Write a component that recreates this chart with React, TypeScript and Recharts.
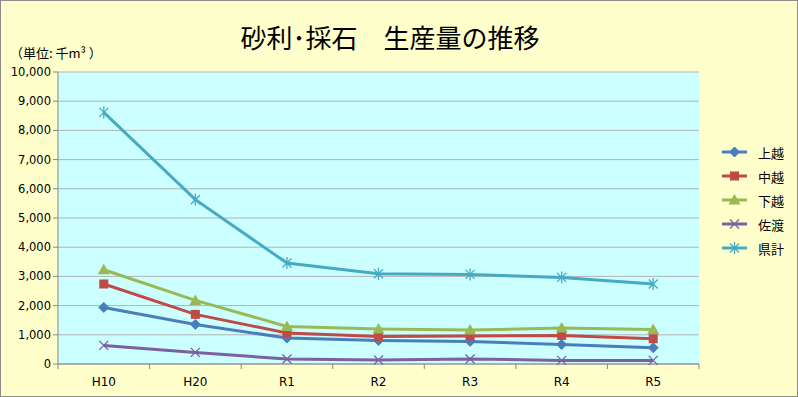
import React from "react";
import { LineChart, Line, XAxis, YAxis, CartesianGrid } from "recharts";

const categories = ["H10", "H20", "R1", "R2", "R3", "R4", "R5"];
const joetsu = [1938, 1356, 890, 808, 774, 671, 558];
const chuetsu = [2740, 1699, 1062, 945, 959, 979, 866];
const kaetsu = [3229, 2178, 1288, 1199, 1164, 1233, 1185];
const sado = [637, 397, 171, 137, 171, 123, 123];
const kenkei = [8616, 5627, 3459, 3092, 3068, 2966, 2740];
const yTicks = [0, 1000, 2000, 3000, 4000, 5000, 6000, 7000, 8000, 9000, 10000];

const data = categories.map((c, i) => ({
  name: c,
  上越: joetsu[i],
  中越: chuetsu[i],
  下越: kaetsu[i],
  佐渡: sado[i],
  県計: kenkei[i],
}));

const series = [
  { key: "上越", color: "#4A7EBB", shape: "diamond" },
  { key: "中越", color: "#BE4B48", shape: "square" },
  { key: "下越", color: "#98B954", shape: "triangle" },
  { key: "佐渡", color: "#7D60A0", shape: "x" },
  { key: "県計", color: "#46AAC5", shape: "star" },
];

const W = 798;
const H = 397;
const XH = 30;
const M = { top: 72, right: 99, left: 0, bottom: 397 - 364 - XH };
const YW = 58;
const plotW = W - M.left - M.right - YW;
const band = plotW / categories.length;

function Marker({ cx, cy, color, shape }: any) {
  if (cx == null || cy == null) return null;
  switch (shape) {
    case "diamond":
      return <polygon points={`${cx},${cy - 5} ${cx + 5},${cy} ${cx},${cy + 5} ${cx - 5},${cy}`} fill={color} stroke={color} />;
    case "square":
      return <rect x={cx - 4.5} y={cy - 4.5} width={9} height={9} fill={color} />;
    case "triangle":
      return <polygon points={`${cx},${cy - 6} ${cx + 6},${cy + 4.5} ${cx - 6},${cy + 4.5}`} fill={color} />;
    case "x":
      return (
        <g stroke={color} strokeWidth={1.3}>
          <line x1={cx - 4.5} y1={cy - 4.5} x2={cx + 4.5} y2={cy + 4.5} />
          <line x1={cx - 4.5} y1={cy + 4.5} x2={cx + 4.5} y2={cy - 4.5} />
        </g>
      );
    case "star":
      return (
        <g stroke={color} strokeWidth={1.3}>
          <line x1={cx - 4.5} y1={cy - 4.5} x2={cx + 4.5} y2={cy + 4.5} />
          <line x1={cx - 4.5} y1={cy + 4.5} x2={cx + 4.5} y2={cy - 4.5} />
          <line x1={cx} y1={cy - 6} x2={cx} y2={cy + 6} />
        </g>
      );
  }
  return null;
}

const XTick = (props: any) => {
  const { x, y, payload, index } = props;
  const axisY = y;
  return (
    <g>
      {index === 0 && <line x1={x - band / 2} y1={axisY} x2={x - band / 2} y2={axisY + 5} stroke="#868686" />}
      <line x1={x + band / 2} y1={axisY} x2={x + band / 2} y2={axisY + 5} stroke="#868686" />
      <text x={x} y={axisY + 22} textAnchor="middle" fontSize={12} fontFamily="DejaVu Sans" fill="#000">
        {payload.value}
      </text>
    </g>
  );
};

const LegendBox = () => (
  <div style={{ position: "absolute", left: 720, top: 139, fontFamily: "'Noto Sans CJK JP'", fontSize: 13 }}>
    {series.map((s) => (
      <div key={s.key} style={{ display: "flex", alignItems: "center", height: 24 }}>
        <svg width={28} height={14} style={{ marginRight: 9 }}>
          <line x1={1} y1={7} x2={26} y2={7} stroke={s.color} strokeWidth={3} />
          <Marker cx={13.5} cy={7} color={s.color} shape={s.shape} />
        </svg>
        <span style={{ color: "#000" }}>{s.key}</span>
      </div>
    ))}
  </div>
);

export default function App() {
  return (
    <div style={{ position: "absolute", left: 0, top: 0, width: W, height: H, background: "#FFFFCC", boxSizing: "border-box", border: "1px solid #8c8c8c" }}>
      <div style={{ position: "absolute", left: -1, top: -1 }}>
        <LineChart width={W} height={H} data={data} margin={M}>
          <CartesianGrid vertical={false} stroke="#B3B3B3" fill="#CCFFFF" />
          <XAxis
            dataKey="name"
            height={XH}
            tickLine={false}
            tickSize={0}
            tickMargin={0}
            axisLine={{ stroke: "#868686" }}
            tick={<XTick />}
            interval={0}
            padding={{ left: band / 2, right: band / 2 }}
          />
          <YAxis
            width={YW}
            domain={[0, 10000]}
            ticks={yTicks}
            interval={0}
            tickLine={{ stroke: "#868686" }}
            tickSize={5}
            axisLine={{ stroke: "#868686" }}
            tickFormatter={(v: number) => v.toLocaleString("en-US")}
            tick={{ fontSize: 11.5, fontFamily: "DejaVu Sans", fill: "#000" }}
            tickMargin={2}
          />
          {series.map((s) => (
            <Line
              key={s.key}
              type="linear"
              dataKey={s.key}
              stroke={s.color}
              strokeWidth={3}
              isAnimationActive={false}
              dot={(p: any) => <Marker key={`${s.key}-${p.index}`} cx={p.cx} cy={p.cy} color={s.color} shape={s.shape} />}
              activeDot={false}
            />
          ))}
        </LineChart>
      </div>
      <LegendBox />
      <div style={{ position: "absolute", left: -10, width: W, top: 17, textAlign: "center", fontFamily: "'Noto Sans CJK JP'", fontSize: 26, lineHeight: "38px", color: "#000" }}>
        砂利･採石　生産量の推移
      </div>
      <div style={{ position: "absolute", left: 9, top: 42, fontFamily: "'Noto Sans CJK JP'", fontSize: 13, color: "#000" }}>
        （単位: 千m³ ）
      </div>
    </div>
  );
}
